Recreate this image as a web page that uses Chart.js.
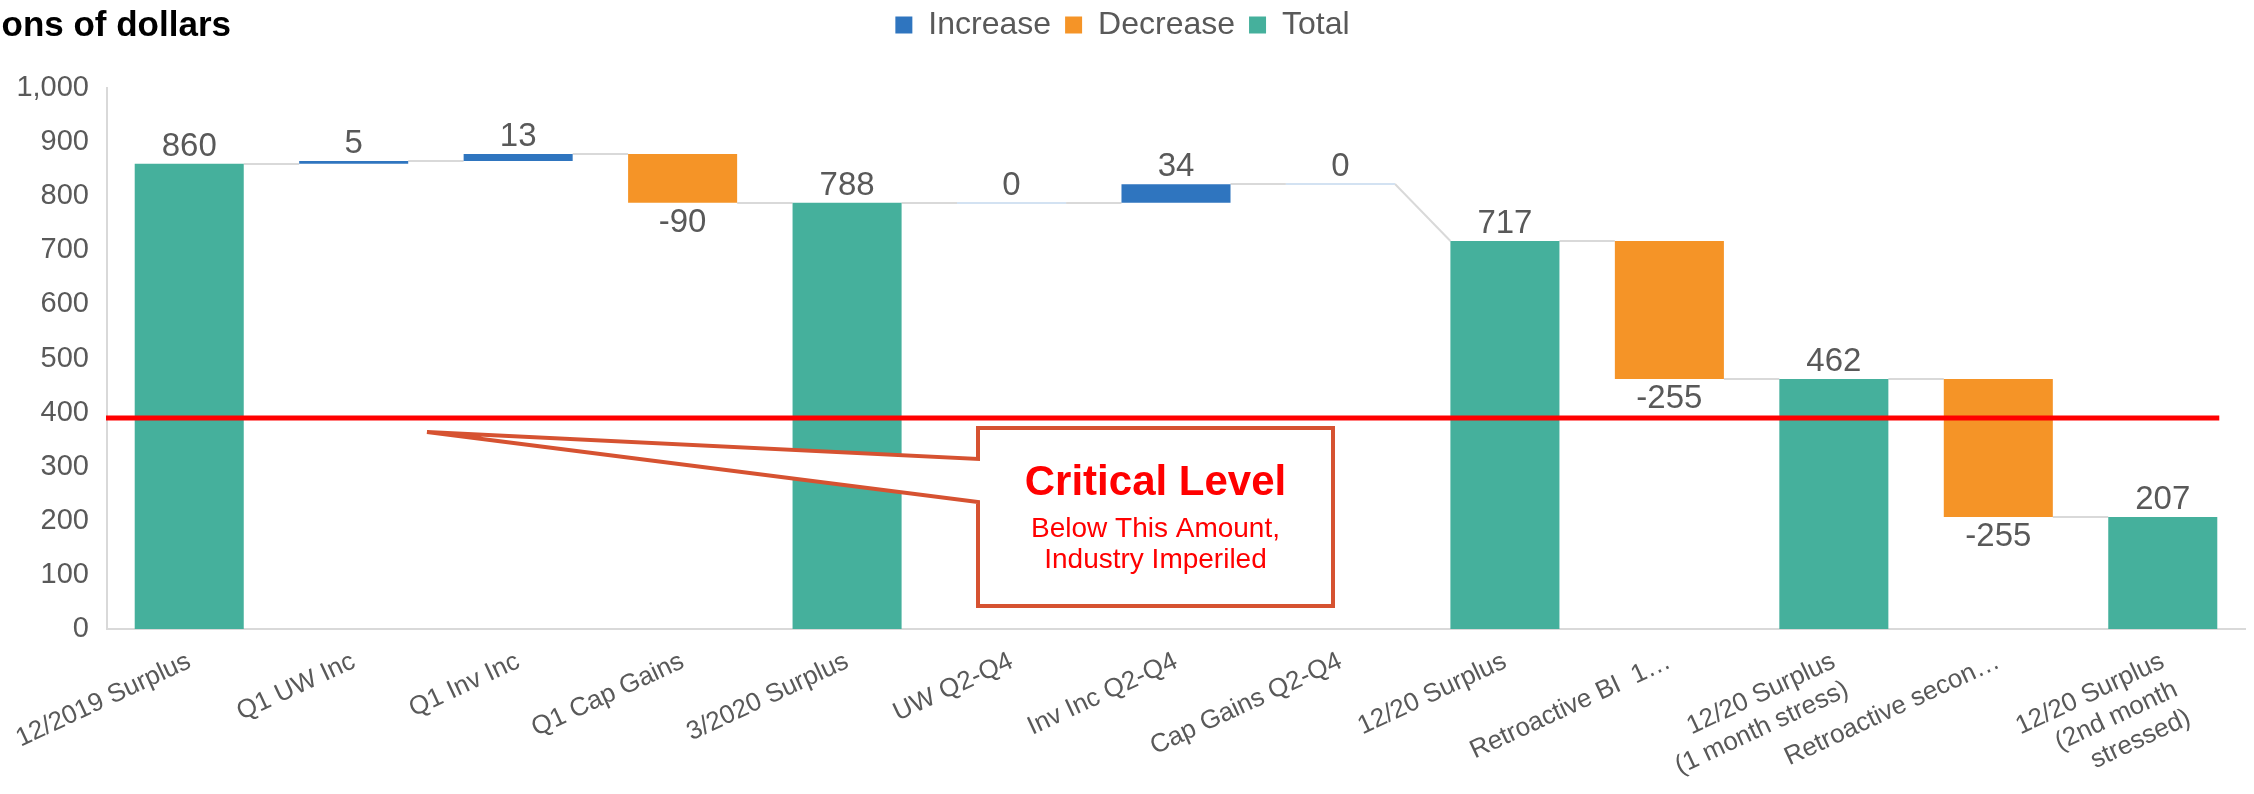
<!DOCTYPE html>
<html><head><meta charset="utf-8">
<script src="https://cdn.jsdelivr.net/npm/chart.js@4.4.1/dist/chart.umd.min.js"></script>
<style>html,body{margin:0;padding:0;background:#fff;overflow:hidden}canvas{display:block}</style>
</head><body>
<canvas id="c" width="2254" height="794"></canvas>
<script>
// ---- data ----
const categories = [
  "12/2019 Surplus", "Q1 UW Inc", "Q1 Inv Inc", "Q1 Cap Gains", "3/2020 Surplus",
  "UW Q2-Q4", "Inv Inc Q2-Q4", "Cap Gains Q2-Q4", "12/20 Surplus",
  "Retroactive BI  1\u2026", ["12/20 Surplus", "(1 month stress)"],
  "Retroactive secon\u2026", ["12/20 Surplus", "(2nd month", "stressed)"]
];
const values  = [860, 5, 13, -90, 788, 0, 34, 0, 717, -255, 462, -255, 207];
const isTotal = [true, false, false, false, true, false, false, false, true, false, true, false, true];
const seriesNames = ["Increase", "Decrease", "Total"];
const yTicks = { min: 0, max: 1000, step: 100 };
const criticalLevel = 390;
const titleText = "Billions of dollars";
const calloutTitle = "Critical Level";
const calloutLines = ["Below This Amount,", "Industry Imperiled"];

// ---- build waterfall ranges ----
const ranges = [];
let running = 0;
values.forEach((v, i) => {
  if (isTotal[i]) { running = v; ranges.push([0, v]); }
  else { const s = running; running += v; ranges.push([s, running]); }
});
const incData = ranges.map((r, i) => (!isTotal[i] && values[i] > 0) ? r : null);
const decData = ranges.map((r, i) => (!isTotal[i] && values[i] < 0) ? r : null);
const totData = ranges.map((r, i) => isTotal[i] ? r : null);

const BLUE = '#2F75BF', ORANGE = '#F59427', TEAL = '#45B09C';
const GREY = '#595959', LINE = '#D9D9D9';
const FONT = "'Liberation Sans', Arial, Helvetica, sans-serif";
const TOP_PAD = -5;

const legendFit = {
  id: 'legendFit',
  beforeInit(chart) {
    const lg = chart.legend;
    if (!lg) return;
    const orig = lg.fit;
    lg.fit = function () { orig.call(this); this.height = 88 - TOP_PAD; };
  }
};

const decor = {
  id: 'decor',
  beforeDatasetsDraw(chart) {
    const { ctx } = chart;
    const x = chart.scales.x, y = chart.scales.y;
    const meta = chart.getDatasetMeta(2);
    const bw = meta.data.find(Boolean).width;
    ctx.save();
    ctx.lineWidth = 2;
    ctx.strokeStyle = LINE;
    for (let i = 0; i < values.length - 1; i++) {
      const endLevel = isTotal[i] ? values[i] : ranges[i][1];
      const startNext = isTotal[i + 1] ? values[i + 1] : ranges[i + 1][0];
      const x1 = x.getPixelForValue(i) + bw / 2;
      const x2 = x.getPixelForValue(i + 1) - bw / 2;
      ctx.beginPath();
      ctx.moveTo(x1, Math.round(y.getPixelForValue(endLevel)));
      ctx.lineTo(x2, Math.round(y.getPixelForValue(startNext)));
      ctx.stroke();
    }
    // zero-height deltas
    ctx.strokeStyle = '#D3E2F2';
    values.forEach((v, i) => {
      if (!isTotal[i] && v === 0) {
        const cx = x.getPixelForValue(i);
        const py = Math.round(y.getPixelForValue(ranges[i][0]));
        ctx.beginPath(); ctx.moveTo(cx - bw / 2, py); ctx.lineTo(cx + bw / 2, py); ctx.stroke();
      }
    });
    ctx.restore();
  },
  afterDatasetsDraw(chart) {
    const { ctx, chartArea } = chart;
    const x = chart.scales.x, y = chart.scales.y;
    const meta = chart.getDatasetMeta(2);
    const bw = meta.data.find(Boolean).width;
    ctx.save();
    // value labels
    ctx.font = '33px ' + FONT;
    ctx.fillStyle = GREY;
    ctx.textAlign = 'center';
    ctx.textBaseline = 'alphabetic';
    values.forEach((v, i) => {
      const cx = x.getPixelForValue(i);
      const lo = Math.min(ranges[i][0], ranges[i][1]);
      const hi = Math.max(ranges[i][0], ranges[i][1]);
      if (!isTotal[i] && v < 0) {
        ctx.fillText(String(v), cx, y.getPixelForValue(lo) + 29);
      } else {
        ctx.fillText(String(v), cx, y.getPixelForValue(hi) - 8);
      }
    });
    // critical line
    const cy = y.getPixelForValue(criticalLevel);
    ctx.strokeStyle = '#FF0000';
    ctx.lineWidth = 5;
    ctx.beginPath();
    ctx.moveTo(chartArea.left - 1, cy);
    ctx.lineTo(x.getPixelForValue(values.length - 1) + bw / 2 + 2, cy);
    ctx.stroke();
    // callout
    const L = 978, T = 428, R = 1333, B = 606;
    const tipX = 427, tipY = cy + 14;
    ctx.beginPath();
    ctx.moveTo(L, T); ctx.lineTo(R, T); ctx.lineTo(R, B); ctx.lineTo(L, B);
    ctx.lineTo(L, 502); ctx.lineTo(tipX, tipY); ctx.lineTo(L, 459); ctx.closePath();
    ctx.fillStyle = '#FFFFFF';
    ctx.fill();
    ctx.lineWidth = 4;
    ctx.lineJoin = 'miter';
    ctx.strokeStyle = '#D65231';
    ctx.stroke();
    const mid = (L + R) / 2;
    ctx.fillStyle = '#FF0000';
    ctx.font = 'bold 42px ' + FONT;
    ctx.fillText(calloutTitle, mid, 495);
    ctx.font = '28px ' + FONT;
    ctx.fillText(calloutLines[0], mid, 537);
    ctx.fillText(calloutLines[1], mid, 568);
    ctx.restore();
  },
  afterDraw(chart) {
    const { ctx } = chart;
    ctx.save();
    ctx.font = 'bold 35px ' + FONT;
    ctx.fillStyle = '#000000';
    ctx.textAlign = 'right';
    ctx.textBaseline = 'alphabetic';
    ctx.fillText(titleText, 231, 36);
    ctx.restore();
  }
};

new Chart(document.getElementById('c'), {
  type: 'bar',
  data: {
    labels: categories,
    datasets: [
      { label: seriesNames[0], data: incData, backgroundColor: BLUE, grouped: false },
      { label: seriesNames[1], data: decData, backgroundColor: ORANGE, grouped: false },
      { label: seriesNames[2], data: totData, backgroundColor: TEAL, grouped: false }
    ]
  },
  options: {
    responsive: false,
    animation: false,
    layout: { padding: { left: 0, right: 9, top: TOP_PAD, bottom: 0 } },
    datasets: { bar: { categoryPercentage: 1, barPercentage: 0.663, borderWidth: 0 } },
    plugins: {
      legend: {
        position: 'top',
        labels: { font: { family: FONT, size: 32 }, color: GREY, boxWidth: 17, boxHeight: 17, padding: 14 }
      },
      tooltip: { enabled: false }
    },
    scales: {
      x: {
        grid: { display: false },
        border: { display: true, color: LINE, width: 2 },
        ticks: { autoSkip: false, maxRotation: 25, minRotation: 25, font: { family: FONT, size: 26 }, color: GREY, padding: 9 },
        afterFit(s) { s.height = 165; }
      },
      y: {
        min: yTicks.min, max: yTicks.max,
        grid: { display: false, drawTicks: false },
        border: { display: true, color: LINE, width: 2 },
        ticks: {
          stepSize: yTicks.step, font: { family: FONT, size: 29 }, color: GREY, padding: 18,
          callback: v => v.toLocaleString('en-US')
        },
        afterFit(s) { s.width = 107; }
      }
    }
  },
  plugins: [legendFit, decor]
});
</script>
</body></html>
